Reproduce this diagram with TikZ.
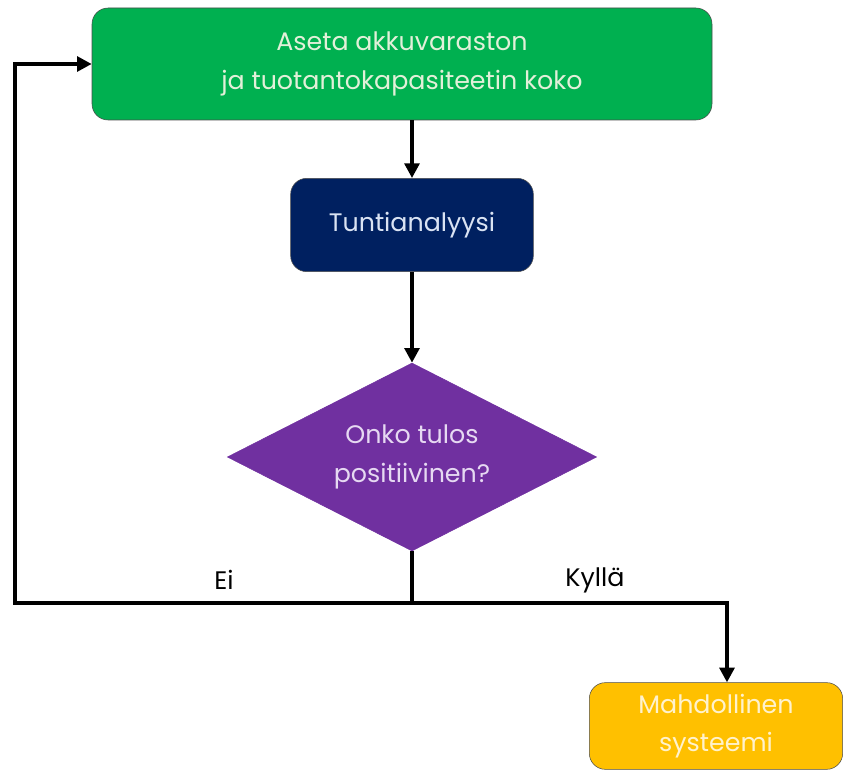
\documentclass[tikz,border=0pt]{standalone}
\usepackage{fontspec}
\setmainfont{Poppins}
\usetikzlibrary{shapes.geometric,arrows.meta}

\definecolor{boxgreen}{HTML}{00B050}
\definecolor{greentext}{HTML}{E2F0D9}
\definecolor{boxnavy}{HTML}{002060}
\definecolor{navytext}{HTML}{DAE3F3}
\definecolor{boxpurple}{HTML}{7030A0}
\definecolor{purpletext}{HTML}{E6D9F2}
\definecolor{boxorange}{HTML}{FFC000}
\definecolor{orangetext}{HTML}{FFF2CC}

\tikzset{
	box/.style={draw=black!70, thin, rounded corners=12pt, align=center, inner sep=0pt, font=\fontsize{19}{29}\selectfont},
	flow/.style={line width=3pt, -{Triangle[length=11pt,width=11pt]}},
	tag/.style={font=\fontsize{19}{22}\selectfont}
}

\begin{document}
\begin{tikzpicture}[x=0.75pt,y=-0.75pt]
		\useasboundingbox (0,0) rectangle (844,773);

		% Draw boxes
		\node[box, fill=boxgreen, text=greentext, minimum width=465pt, minimum height=84pt] (aseta) at (402,64) {Aseta akkuvaraston\\ja tuotantokapasiteetin koko};
		\node[box, fill=boxnavy, text=navytext, minimum width=182pt, minimum height=70pt] (tunti) at (412,225) {Tuntianalyysi};
		\node[diamond, aspect=2, draw=boxpurple, fill=boxpurple, text=purpletext, align=center, inner sep=0pt, minimum width=277pt, minimum height=141pt, font=\fontsize{19}{29}\selectfont] (kysy) at (412,457) {Onko tulos\\positiivinen?};
		\node[box, fill=boxorange, text=orangetext, minimum width=190pt, minimum height=65pt] (tulos) at (716,726) {Mahdollinen\\systeemi};

		% Draw split points
		\coordinate (jako) at (412,603);
		\coordinate (vasen) at (15,603);
		\coordinate (oikea) at (727,603);

		% Draw connectors
		\draw[flow] (aseta.south -| tunti.north) -- (tunti.north);
		\draw[flow] (tunti.south) -- (kysy.north);
		\draw[line width=3pt] (kysy.south) -- (jako);
		\draw[flow] (jako) -- (vasen) |- (aseta.west);
		\draw[flow] (jako) -- (oikea) -- (oikea |- tulos.north);

		% Draw labels
		\node[tag] (ei) at (224,580) {Ei};
		\node[tag] (kylla) at (595,580) {Kyllä};
	\end{tikzpicture}
\end{document}
